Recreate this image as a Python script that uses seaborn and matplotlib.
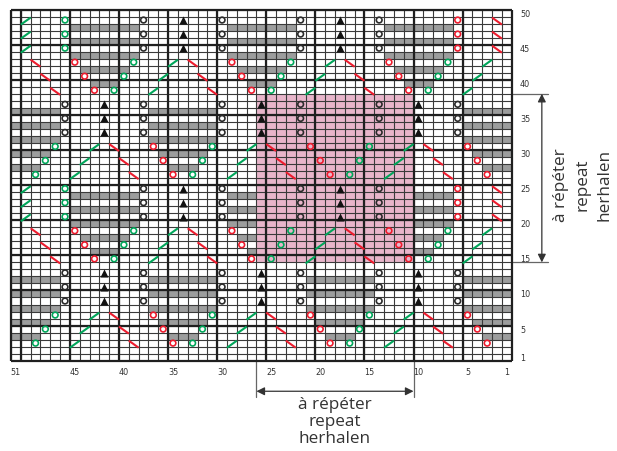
import numpy as np
import seaborn as sns
from matplotlib import pyplot as plt
from matplotlib.collections import LineCollection
from matplotlib.colors import ListedColormap

# stitch numbers run 51..1 left to right, rows 1..50 bottom to top
n_cols = 51
n_rows = 50
col_labels = [51, 45, 40, 35, 30, 25, 20, 15, 10, 5, 1]
row_labels = [50, 45, 40, 35, 30, 25, 20, 15, 10, 5, 1]

# repeat block (pink)
repeat_cols = (26, 11)
repeat_rows = (38, 15)

# gray bars: row -> list of (first col, last col)
gray_a = [(45, 39), (29, 23), (13, 7)]
gray_b = [(44, 40), (28, 24), (12, 8)]
gray_c = [(43, 41), (27, 25), (11, 9)]
gray_d = [(51, 47), (37, 31), (21, 15), (5, 1)]
gray_e = [(51, 48), (36, 32), (20, 16), (4, 1)]
gray_f = [(51, 49), (35, 33), (19, 17), (3, 1)]
gray_rows = {48: gray_a, 46: gray_a, 44: gray_a, 42: gray_b, 40: gray_c,
             36: gray_d, 34: gray_d, 32: gray_d, 30: gray_e, 28: gray_f,
             24: gray_a, 22: gray_a, 20: gray_a, 18: gray_b, 16: gray_c,
             12: gray_d, 10: gray_d, 8: gray_d, 6: gray_e, 4: gray_f}

rows_top = [49, 47, 45, 25, 23, 21]
rows_mid = [37, 35, 33, 13, 11, 9]

# (cols, rows) groups for each symbol
triangles = [([34, 18], rows_top), ([42, 26, 10], rows_mid)]
black_circles = [([38, 30, 22, 14], rows_top), ([46, 38, 30, 22, 14, 6], rows_mid)]
green_circles = [([46], rows_top),
                 ([39, 23, 7], [43, 19]), ([40, 24, 8], [41, 17]), ([41, 25, 9], [39, 15]),
                 ([47, 31, 15], [31, 7]), ([48, 32, 16], [29, 5]), ([49, 33, 17], [27, 3])]
red_circles = [([6], rows_top),
               ([45, 29, 13], [43, 19]), ([44, 28, 12], [41, 17]), ([43, 27, 11], [39, 15]),
               ([37, 21, 5], [31, 7]), ([36, 20, 4], [29, 5]), ([35, 19, 3], [27, 3])]
green_slashes = [([50], rows_top),
                 ([35, 19, 3], [43, 19]), ([36, 20, 4], [41, 17]), ([37, 21, 5], [39, 15]),
                 ([43, 27, 11], [31, 7]), ([44, 28, 12], [29, 5]), ([45, 29, 13], [27, 3])]
red_slashes = [([2], rows_top),
               ([49, 33, 17], [43, 19]), ([48, 32, 16], [41, 17]), ([47, 31, 15], [39, 15]),
               ([41, 25, 9], [31, 7]), ([40, 24, 8], [29, 5]), ([39, 23, 7], [27, 3])]

repeat_text = ["à répéter", "repeat", "herhalen"]

W, H = 617, 451
INK = "#2b2b2b"
GRAY = "#9c9d9d"
PINK = "#e8b5ca"
RED = "#ed1c2e"
GREEN = "#00a65a"
BRACKET = "#666666"


def expand(groups):
    """(cols, rows) groups -> x, y heatmap coordinates of the cell centres"""
    xs, ys = [], []
    for cols, rows in groups:
        for c in cols:
            for r in rows:
                xs.append(n_cols - c + .5)
                ys.append(n_rows - r + .5)
    return np.array(xs), np.array(ys)


def slashes(ax, groups, color, rising):
    xs, ys = expand(groups)
    segs = []
    for x, y in zip(xs, ys):
        low, high = y + .65, y - .35
        if rising:
            segs.append([(x - .5, low), (x + .5, high)])
        else:
            segs.append([(x - .5, high), (x + .5, low)])
    ax.add_collection(LineCollection(segs, colors=color, linewidths=1.5, zorder=5))


sns.set_theme(style="white")
plt.rcParams["font.family"] = ["DejaVu Sans"]

grid = np.zeros((n_rows, n_cols))
for row, spans in gray_rows.items():
    for first, last in spans:
        grid[n_rows - row, n_cols - first:n_cols - last + 1] = 1
grid[n_rows - repeat_rows[0]:n_rows - repeat_rows[1] + 1,
     n_cols - repeat_cols[0]:n_cols - repeat_cols[1] + 1] = 2

fig = plt.figure(figsize=(W / 100, H / 100), dpi=100, facecolor="white")
ax = fig.add_axes([11 / W, 1 - 360.7 / H, 500.7 / W, 351.2 / H])

xticks = [str(c) if c in col_labels else "" for c in range(n_cols, 0, -1)]
yticks = [str(r) if r in row_labels else "" for r in range(n_rows, 0, -1)]
sns.heatmap(grid, ax=ax, cmap=ListedColormap(["white", GRAY, PINK]), vmin=0, vmax=2,
            cbar=False, xticklabels=xticks, yticklabels=yticks)

# thin cell lines on top of the mesh
ax.vlines(range(n_cols + 1), 0, n_rows, color="#3a3a3a", lw=.8, zorder=2)
ax.hlines(range(n_rows + 1), 0, n_cols, color="#3a3a3a", lw=.8, zorder=2)

ax.yaxis.tick_right()
ax.tick_params(axis="both", length=0, labelsize=6.5, labelcolor="#333333", labelrotation=0)
ax.tick_params(axis="x", pad=5)
ax.tick_params(axis="y", pad=6)
for lab in ax.get_yticklabels() + ax.get_xticklabels():
    lab.set_fontstretch("condensed")
for lab in ax.get_yticklabels():
    lab.set_ha("left")

# heavier line every 5 stitches / rows, plus the frame
thick_x = [0] + [n_cols - c for c in range(50, 0, -5)] + [n_cols]
thick_y = [0] + [n_rows - r for r in range(45, 0, -5)] + [n_rows]
ax.vlines(thick_x, 0, n_rows, color="#1f1f1f", lw=1.6, zorder=3, clip_on=False)
ax.hlines(thick_y, 0, n_cols, color="#1f1f1f", lw=1.6, zorder=3, clip_on=False)

for groups, edge in [(black_circles, INK), (green_circles, GREEN), (red_circles, RED)]:
    x, y = expand(groups)
    sns.scatterplot(x=x, y=y, ax=ax, marker="o", s=17, facecolor="none", edgecolor=edge,
                    linewidth=1.2, zorder=5, snap=False)
x, y = expand(triangles)
sns.scatterplot(x=x, y=y, ax=ax, marker="^", s=34, color="#111111", linewidth=0, zorder=5, snap=False)
slashes(ax, green_slashes, GREEN, True)
slashes(ax, red_slashes, RED, False)

# repeat brackets
left = n_cols - repeat_cols[0]
right = n_cols - repeat_cols[1] + 1
top = n_rows - repeat_rows[0]
bottom = n_rows - repeat_rows[1] + 1
ax.plot([left, left], [n_rows, n_rows + 5.2], color=BRACKET, lw=.9, clip_on=False, zorder=2)
ax.plot([right, right], [n_rows, n_rows + 5.2], color=BRACKET, lw=.9, clip_on=False, zorder=2)
ax.plot([n_cols, n_cols + 3.7], [top, top], color=BRACKET, lw=.9, clip_on=False, zorder=2)
ax.plot([n_cols, n_cols + 3.7], [bottom, bottom], color=BRACKET, lw=.9, clip_on=False, zorder=2)
arrow = dict(arrowstyle="<|-|>", color="#333333", lw=.9, shrinkA=0, shrinkB=0, mutation_scale=12)
ax.annotate("", xy=(left, n_rows + 4.35), xytext=(right, n_rows + 4.35),
            xycoords="data", textcoords="data", arrowprops=arrow, annotation_clip=False)
ax.annotate("", xy=(n_cols + 3.07, top), xytext=(n_cols + 3.07, bottom),
            xycoords="data", textcoords="data", arrowprops=arrow, annotation_clip=False)

for txt, py in zip(repeat_text, [405, 422, 439]):
    fig.text(335 / W, 1 - py / H, txt, ha="center", va="center", fontsize=12.3, color="#333333",
             family="Open Sans")
for txt, px in zip(repeat_text, [561, 583, 605]):
    fig.text(px / W, 1 - 185 / H, txt, ha="center", va="center", rotation=90, fontsize=12.3,
             color="#333333", family="Open Sans")

fig.savefig("out.png", dpi=100)
